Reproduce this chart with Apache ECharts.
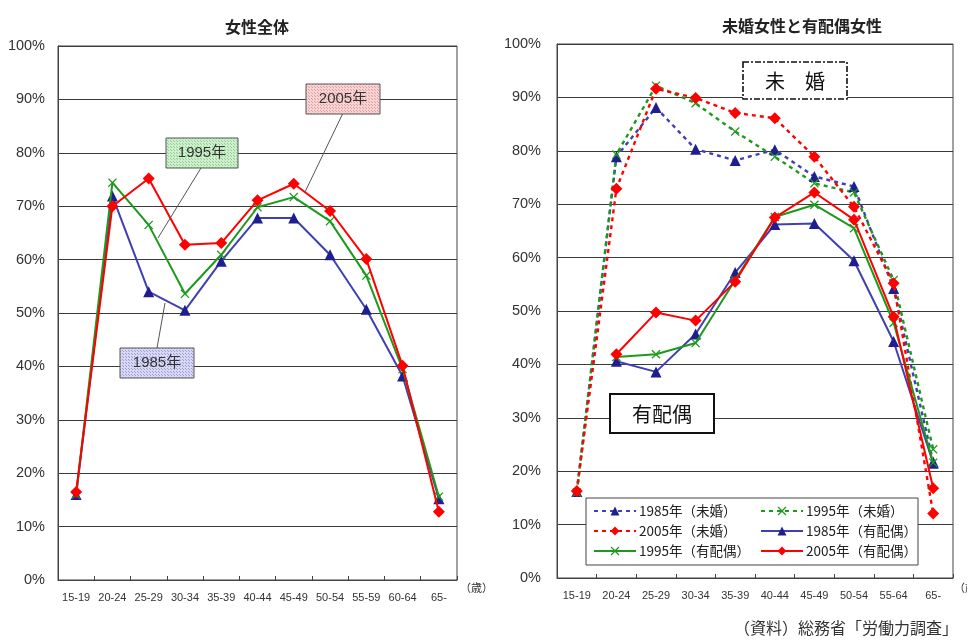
<!DOCTYPE html>
<html>
<head>
<meta charset="utf-8">
<script src="https://cdn.jsdelivr.net/npm/echarts@6/dist/echarts.min.js"></script>
<style>
html, body { margin: 0; padding: 0; background: #fff; }
#chart { width: 967px; height: 641px; }
</style>
</head>
<body>
<div id="chart"></div>
<script>
// Age groups (歳)
const ageGroupsAll = ['15-19', '20-24', '25-29', '30-34', '35-39', '40-44', '45-49', '50-54', '55-59', '60-64', '65-'];
const ageGroupsMarital = ['15-19', '20-24', '25-29', '30-34', '35-39', '40-44', '45-49', '50-54', '55-64', '65-'];
const yTicks = [0, 10, 20, 30, 40, 50, 60, 70, 80, 90, 100];

// 女性全体 — labour force participation rate (%)
const all1985 = [16.0, 71.9, 54.0, 50.5, 59.7, 67.8, 67.8, 60.9, 50.7, 38.2, 15.2];
const all1995 = [16.0, 74.4, 66.5, 53.6, 60.9, 69.8, 71.7, 67.2, 57.0, 39.5, 15.6];
const all2005 = [16.5, 70.0, 75.2, 62.8, 63.1, 71.1, 74.2, 69.1, 60.1, 40.1, 12.8];

// 未婚女性 (%)
const single1985 = [16.2, 78.9, 88.1, 80.3, 78.2, 80.2, 75.2, 73.3, 54.2, 21.7];
const single1995 = [16.0, 79.3, 92.2, 88.9, 83.6, 78.9, 73.9, 72.2, 55.8, 24.1];
const single2005 = [16.3, 72.9, 91.6, 89.9, 87.1, 86.1, 78.9, 69.5, 55.2, 12.1];

// 有配偶女性 (%)
const married1985 = [null, 40.6, 38.6, 45.7, 57.2, 66.2, 66.4, 59.4, 44.3, 21.5];
const married1995 = [null, 41.4, 41.9, 44.0, 55.8, 67.6, 69.9, 65.5, 47.8, 21.6];
const married2005 = [null, 41.9, 49.7, 48.2, 55.5, 67.5, 72.2, 67.1, 48.9, 16.8];

const FONT = '"Liberation Sans", Arial, "Noto Sans CJK JP", sans-serif';
const JFONT = '"Noto Sans CJK JP", "Liberation Sans", sans-serif';

const BLUE_LINE = '#4040B4', BLUE_MARK = '#1E1E90';
const GREEN = '#1C9A1C';
const RED = '#FF0000';
const X_SYMBOL = 'path://M0,1L1,0L5,4L9,0L10,1L6,5L10,9L9,10L5,6L1,10L0,9L4,5Z';

function lineSeries(name, data, axis, lineColor, markColor, symbol, size, dashed, z) {
  return {
    name: name,
    type: 'line',
    xAxisIndex: axis,
    yAxisIndex: axis,
    data: data,
    symbol: symbol,
    symbolSize: size,
    z: z,
    animation: false,
    lineStyle: { color: lineColor, width: dashed ? 2.4 : 2, type: dashed ? [4, 4] : 'solid' },
    itemStyle: { color: markColor },
    emphasis: { disabled: true }
  };
}

// Dotted fill for the year callouts
function dotPattern(base, dot) {
  const c = document.createElement('canvas');
  c.width = 3; c.height = 3;
  const g = c.getContext('2d');
  g.fillStyle = base; g.fillRect(0, 0, 3, 3);
  g.fillStyle = dot; g.fillRect(0, 0, 1, 1); g.fillRect(2, 2, 1, 1);
  return { image: c, repeat: 'repeat' };
}

function yAxis(idx) {
  return {
    type: 'value', gridIndex: idx, min: 0, max: 100, interval: 10,
    axisLine: { show: true, lineStyle: { color: '#444', width: 1 } },
    axisTick: { show: false },
    axisLabel: { formatter: '{value}%', fontFamily: FONT, fontSize: 14.5, color: '#333', margin: idx === 0 ? 13 : 16 },
    splitLine: { show: true, lineStyle: { color: '#3a3a3a', width: 1.2 } }
  };
}
function xAxis(idx, cats) {
  return {
    type: 'category', gridIndex: idx, data: cats, boundaryGap: true,
    axisLine: { show: true, lineStyle: { color: '#444', width: 1 } },
    axisTick: { show: true, inside: true, length: 4, lineStyle: { color: '#444' } },
    axisLabel: { interval: 0, fontFamily: FONT, fontSize: 11, color: '#333', margin: 12 },
    splitLine: { show: false }
  };
}

function legendCol(left, names) {
  return {
    orient: 'vertical', left: left, top: 504, padding: 0,
    itemWidth: 42, itemHeight: 11, itemGap: 6, z: 12,
    selectedMode: false,
    textStyle: { fontFamily: JFONT, fontSize: 13.5, color: '#222', lineHeight: 14, padding: [0, 0, 0, -2] },
    data: names
  };
}

const chart = echarts.init(document.getElementById('chart'), null, { renderer: 'canvas' });

const option = {
  animation: false,
  backgroundColor: '#fff',
  grid: [
    { left: 58, top: 46, width: 399, height: 534, show: true, borderColor: '#444', borderWidth: 1, backgroundColor: '#fff' },
    { left: 557, top: 44, width: 396, height: 534, show: true, borderColor: '#444', borderWidth: 1, backgroundColor: '#fff' }
  ],
  xAxis: [xAxis(0, ageGroupsAll), xAxis(1, ageGroupsMarital)],
  yAxis: [yAxis(0), yAxis(1)],
  legend: [
    legendCol(593, ['1985年（未婚）', '2005年（未婚）', '1995年（有配偶）']),
    legendCol(760, ['1995年（未婚）', '1985年（有配偶）', '2005年（有配偶）'])
  ],
  series: [
    lineSeries('1985年', all1985, 0, BLUE_LINE, BLUE_MARK, 'triangle', 11, false, 3),
    lineSeries('1995年', all1995, 0, GREEN, GREEN, X_SYMBOL, 9, false, 4),
    lineSeries('2005年', all2005, 0, RED, RED, 'diamond', 12, false, 5),

    lineSeries('1985年（未婚）', single1985, 1, BLUE_LINE, BLUE_MARK, 'triangle', 11, true, 3),
    lineSeries('1995年（未婚）', single1995, 1, GREEN, GREEN, X_SYMBOL, 9, true, 3),
    lineSeries('2005年（未婚）', single2005, 1, RED, RED, 'diamond', 12, true, 4),
    lineSeries('1985年（有配偶）', married1985, 1, BLUE_LINE, BLUE_MARK, 'triangle', 11, false, 3),
    lineSeries('1995年（有配偶）', married1995, 1, GREEN, GREEN, X_SYMBOL, 9, false, 4),
    lineSeries('2005年（有配偶）', married2005, 1, RED, RED, 'diamond', 12, false, 5)
  ],
  graphic: [
    // titles
    { type: 'text', left: 225, top: 19, z: 20, style: { text: '女性全体', font: 'bold 16px ' + JFONT, fill: '#222', align: 'center', verticalAlign: 'middle' } },
    { type: 'text', left: 722, top: 18, z: 20, style: { text: '未婚女性と有配偶女性', font: 'bold 16px ' + JFONT, fill: '#222', align: 'center', verticalAlign: 'middle' } },

    // 歳 unit after each x axis
    { type: 'text', left: 460, top: 582, z: 20, style: { text: '（歳）', font: '11px ' + JFONT, fill: '#333' } },
    { type: 'text', left: 954, top: 582, z: 20, style: { text: '（歳）', font: '11px ' + JFONT, fill: '#333' } },

    // year callouts on 女性全体
    { type: 'line', z: 20, shape: { x1: 343, y1: 113, x2: 305, y2: 192 }, style: { stroke: '#555', lineWidth: 1 } },
    { type: 'rect', z: 21, shape: { x: 306, y: 84, width: 74, height: 30 }, style: { fill: dotPattern('#F7D4D4', '#E59C9C'), stroke: '#555', lineWidth: 1 } },
    { type: 'text', z: 22, x: 343, y: 99, style: { text: '2005年', font: '15px ' + FONT, fill: '#333', align: 'center', verticalAlign: 'middle' } },

    { type: 'line', z: 20, shape: { x1: 201, y1: 168, x2: 158, y2: 238 }, style: { stroke: '#555', lineWidth: 1 } },
    { type: 'rect', z: 21, shape: { x: 166, y: 138, width: 72, height: 30 }, style: { fill: dotPattern('#CDEFCD', '#8FCF8F'), stroke: '#555', lineWidth: 1 } },
    { type: 'text', z: 22, x: 202, y: 153, style: { text: '1995年', font: '15px ' + FONT, fill: '#333', align: 'center', verticalAlign: 'middle' } },

    { type: 'line', z: 20, shape: { x1: 157, y1: 348, x2: 165, y2: 303 }, style: { stroke: '#555', lineWidth: 1 } },
    { type: 'rect', z: 21, shape: { x: 120, y: 348, width: 74, height: 30 }, style: { fill: dotPattern('#D8D8F4', '#9C9CD8'), stroke: '#555', lineWidth: 1 } },
    { type: 'text', z: 22, x: 157, y: 363, style: { text: '1985年', font: '15px ' + FONT, fill: '#333', align: 'center', verticalAlign: 'middle' } },

    // group labels on the right chart
    { type: 'rect', z: 21, shape: { x: 743, y: 62, width: 104, height: 37 }, style: { fill: '#fff', stroke: '#111', lineWidth: 1.6, lineDash: [6, 2, 2, 2] } },
    { type: 'text', z: 22, x: 795, y: 81, style: { text: '未　婚', font: '20px ' + JFONT, fill: '#111', align: 'center', verticalAlign: 'middle' } },
    { type: 'rect', z: 21, shape: { x: 610, y: 394, width: 104, height: 39 }, style: { fill: '#fff', stroke: '#111', lineWidth: 2 } },
    { type: 'text', z: 22, x: 662, y: 414, style: { text: '有配偶', font: '20px ' + JFONT, fill: '#111', align: 'center', verticalAlign: 'middle' } },

    // legend frame
    { type: 'rect', z: 11, shape: { x: 586, y: 498, width: 332, height: 67 }, style: { fill: '#fff', stroke: '#444', lineWidth: 1 } },

    // source
    { type: 'text', z: 20, left: 734, top: 620, style: { text: '（資料）総務省「労働力調査」', font: '16px ' + JFONT, fill: '#333' } }
  ]
};

chart.setOption(option);
</script>
</body>
</html>
